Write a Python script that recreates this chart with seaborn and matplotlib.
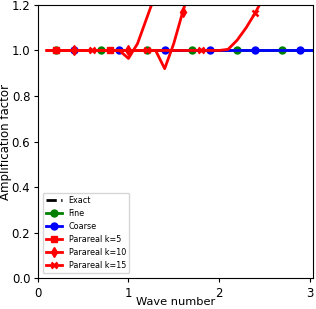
import numpy as np
import pandas as pd
import seaborn as sns
import matplotlib
matplotlib.use("Agg")
import matplotlib.pyplot as plt

# wave numbers (sampled every 0.1)
wave = [0.1, 0.2, 0.3, 0.4, 0.5, 0.6, 0.7, 0.8, 0.9, 1.0,
        1.1, 1.2, 1.3, 1.4, 1.5, 1.6, 1.7, 1.8, 1.9, 2.0,
        2.1, 2.2, 2.3, 2.4, 2.5, 2.6, 2.7, 2.8, 2.9, 3.0, 3.1]

exact = [1.0] * 31
fine = [1.0] * 31
coarse = [1.0] * 31

# parareal amplification after k iterations
para_k5 = [1.0, 1.0, 1.0, 1.0, 1.0, 1.0, 1.0, 1.0, 1.0, 0.965,
           1.03, 1.14, 1.25, 1.4, 1.6, 1.8, 2.0, 2.2, 2.4, 2.6,
           2.8, 3.0, 3.2, 3.4, 3.6, 3.8, 4.0, 4.2, 4.4, 4.6, 4.8]
para_k10 = [1.0, 1.0, 1.0, 1.0, 1.0, 1.0, 1.0, 1.0, 1.0, 1.0,
            1.0, 1.0, 1.0, 0.92, 1.03, 1.17, 1.3, 1.45, 1.6, 1.8,
            2.0, 2.2, 2.4, 2.6, 2.8, 3.0, 3.2, 3.4, 3.6, 3.8, 4.0]
para_k15 = [1.0, 1.0, 1.0, 1.0, 1.0, 1.0, 1.0, 1.0, 1.0, 1.0,
            1.0, 1.0, 1.0, 1.0, 1.0, 1.0, 1.0, 1.0, 1.0, 1.0,
            1.005, 1.045, 1.10, 1.165, 1.24, 1.33, 1.45, 1.6, 1.8, 2.0, 2.2]

df = pd.DataFrame({"wave": wave, "exact": exact, "fine": fine, "coarse": coarse,
                   "k5": para_k5, "k10": para_k10, "k15": para_k15})

fig = plt.figure(figsize=(3.16, 3.09), dpi=100)
ax = fig.add_axes([0.12, 0.10, 0.871, 0.884])

series = [
    ("exact", "Exact", "black", "--", None, None),
    ("fine", "Fine", "green", "-", "o", (1, 5)),
    ("coarse", "Coarse", "blue", "-", "o", (3, 5)),
    ("k5", "Parareal k=5", "red", "-", "s", (1, 6)),
    ("k10", "Parareal k=10", "red", "-", "d", (3, 6)),
    ("k15", "Parareal k=15", "red", "-", "x", (5, 6)),
]
for col, lab, c, ls, mk, every in series:
    kw = dict(color=c, linestyle=ls, lw=2, label=lab, ax=ax)
    if mk is not None:
        kw.update(marker=mk, ms=5, markevery=every, mec=c, mfc=c,
                  mew=1.8 if mk == "x" else 1)
    sns.lineplot(data=df, x="wave", y=col, **kw)

ax.set_xlim(0, 3.04)
ax.set_ylim(0, 1.2)
ax.set_xticks([0, 1, 2, 3])
ax.set_yticks([0.0, 0.2, 0.4, 0.6, 0.8, 1.0, 1.2])
ax.tick_params(labelsize=8.5, length=3)
ax.tick_params(axis="x", pad=3.5)
ax.tick_params(axis="y", pad=2.5)
ax.set_xlabel("Wave number", fontsize=8.2, labelpad=-2.5)
ax.set_ylabel("Amplification factor", fontsize=8.5, labelpad=0)
ax.legend(loc="lower left", fontsize=5.8, borderaxespad=0.6)

fig.savefig("out.png", dpi=100)
